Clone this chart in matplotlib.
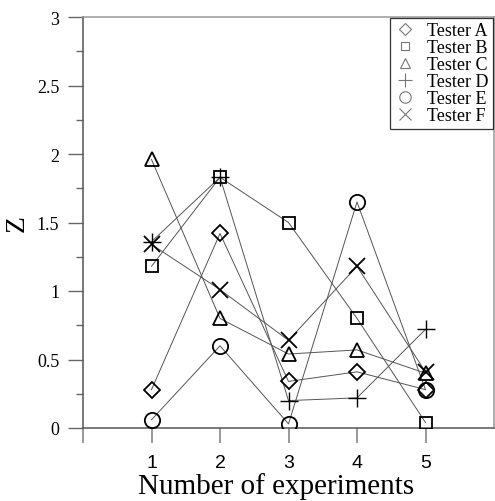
import numpy as np
import matplotlib
matplotlib.use("Agg")
import matplotlib.pyplot as plt

# data
experiments = [1, 2, 3, 4, 5]
tester_a = [0.28, 1.42, 0.34, 0.41, 0.28]
tester_b = [1.18, 1.83, 1.50, 0.80, 0.04]
tester_c = [1.96, 0.80, 0.54, 0.57, 0.40]
tester_d = [1.36, 1.83, 0.20, 0.22, 0.72]
tester_e = [0.06, 0.60, 0.03, 1.65, 0.28]
tester_f = [1.34, 1.01, 0.64, 1.18, 0.41]
labels = ["Tester A", "Tester B", "Tester C", "Tester D", "Tester E", "Tester F"]
y_ticks = [0, 0.5, 1, 1.5, 2, 2.5, 3]
y_ticklabels = ["0", "0.5", "1", "1.5", "2", "2.5", "3"]

series = [tester_a, tester_b, tester_c, tester_d, tester_e, tester_f]
markers = ["D", "s", "^", "+", "o", "x"]
msizes = [8.5, 8, 10, 13, 11, 12]
mews = [1.3, 1.3, 1.3, 1.0, 1.3, 1.3]

plt.rcParams["font.family"] = ["Liberation Serif", "DejaVu Serif"]

fig = plt.figure(figsize=(4.95, 5.02), dpi=100)
ax = fig.add_axes([83 / 495, 1 - 429 / 502, 411 / 495, 411 / 502])

for ys, m, ms, mw in zip(series, markers, msizes, mews):
    ax.plot(experiments, ys, color="#555555", lw=0.7, zorder=2)
    ax.plot(experiments, ys, ls="none", marker=m, ms=ms,
            mfc="none", mec="black", mew=mw, zorder=3)

ax.set_xlim(0, 6)
ax.set_ylim(0, 3)
ax.set_xticks([0, 1, 2, 3, 4, 5])
ax.set_xticklabels(["", "1", "2", "3", "4", "5"],
                   family="Liberation Sans", fontsize=14)
ax.set_yticks(y_ticks)
ax.set_yticklabels(y_ticklabels, fontsize=13)
ax.set_yticks(np.arange(0.25, 3, 0.5), minor=True)
ax.tick_params(axis="x", direction="out", length=11, width=1.2, color="#888888", pad=8)
ax.tick_params(axis="y", which="major", direction="out", length=11, width=1, color="#666666", pad=6)
ax.tick_params(axis="y", which="minor", direction="out", length=5, width=1, color="#666666")

for s in ["left", "bottom"]:
    ax.spines[s].set_color("#555555")
    ax.spines[s].set_linewidth(1.1)
for s in ["top", "right"]:
    ax.spines[s].set_color("#999999")
    ax.spines[s].set_linewidth(1.1)

ax.set_xlabel("Number of experiments", fontsize=21)
ax.xaxis.set_label_coords(0.47, -0.106)
ax.set_ylabel("Z", fontsize=20)
ax.yaxis.set_label_coords(-0.13, 0.5)

handles = [plt.Line2D([], [], ls="none", marker=m, ms=s * 0.75, mfc="none",
                      mec="#777777", mew=0.8) for m, s in zip(markers, msizes)]
leg = ax.legend(handles, labels, loc="upper right", fontsize=13,
                frameon=True, fancybox=False, edgecolor="black",
                borderpad=0.25, labelspacing=0.0, handlelength=1.2,
                handletextpad=0.6, borderaxespad=0.05)
leg.get_frame().set_linewidth(0.9)

fig.savefig("out.png", dpi=100)
